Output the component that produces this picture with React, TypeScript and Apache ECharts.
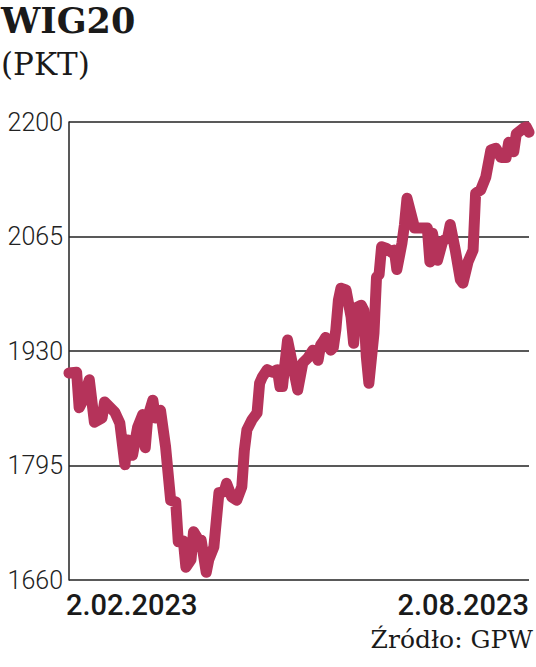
import React, { useEffect, useRef } from "react";
import * as echarts from "echarts";

const dates: string[] = [
  "2023-02-02", "2023-02-05", "2023-02-06", "2023-02-07", "2023-02-10", "2023-02-12", "2023-02-15", "2023-02-16",
  "2023-02-20", "2023-02-22", "2023-02-24", "2023-02-25", "2023-02-27", "2023-03-01", "2023-03-03", "2023-03-04",
  "2023-03-05", "2023-03-07", "2023-03-08", "2023-03-10", "2023-03-12", "2023-03-14", "2023-03-16", "2023-03-17",
  "2023-03-19", "2023-03-20", "2023-03-22", "2023-03-23", "2023-03-25", "2023-03-26", "2023-03-28", "2023-03-29",
  "2023-03-31", "2023-04-02", "2023-04-04", "2023-04-05", "2023-04-07", "2023-04-09", "2023-04-11", "2023-04-12",
  "2023-04-13", "2023-04-15", "2023-04-17", "2023-04-18", "2023-04-19", "2023-04-21", "2023-04-23", "2023-04-25",
  "2023-04-26", "2023-04-27", "2023-04-29", "2023-05-03", "2023-05-05", "2023-05-07", "2023-05-09", "2023-05-11",
  "2023-05-12", "2023-05-13", "2023-05-14", "2023-05-16", "2023-05-17", "2023-05-18", "2023-05-19", "2023-05-20",
  "2023-05-22", "2023-05-24", "2023-05-25", "2023-05-26", "2023-05-28", "2023-05-29", "2023-05-30", "2023-05-31",
  "2023-06-02", "2023-06-03", "2023-06-04", "2023-06-05", "2023-06-07", "2023-06-09", "2023-06-10", "2023-06-11",
  "2023-06-13", "2023-06-14", "2023-06-15", "2023-06-18", "2023-06-21", "2023-06-23", "2023-06-24", "2023-06-25",
  "2023-06-27", "2023-06-29", "2023-07-01", "2023-07-02", "2023-07-04", "2023-07-06", "2023-07-07", "2023-07-09",
  "2023-07-11", "2023-07-12", "2023-07-14", "2023-07-16", "2023-07-18", "2023-07-20", "2023-07-22", "2023-07-24",
  "2023-07-25", "2023-07-27", "2023-07-28", "2023-07-31", "2023-08-01", "2023-08-02",
];

const wig20: number[] = [
  1904, 1905, 1863, 1869, 1896, 1846, 1851, 1870,
  1858, 1845, 1796, 1825, 1807, 1840, 1855, 1816,
  1852, 1872, 1851, 1860, 1817, 1754, 1752, 1705,
  1706, 1675, 1684, 1717, 1707, 1707, 1669, 1684,
  1699, 1763, 1764, 1774, 1758, 1754, 1770, 1813,
  1837, 1849, 1857, 1892, 1899, 1908, 1905, 1908,
  1888, 1888, 1943, 1884, 1916, 1922, 1931, 1919,
  1937, 1941, 1946, 1931, 1934, 1955, 1990, 2004,
  2002, 1970, 1939, 1981, 1984, 1978, 1923, 1892,
  1951, 2017, 2020, 2053, 2051, 2046, 2049, 2026,
  2057, 2079, 2110, 2075, 2075, 2075, 2035, 2069,
  2037, 2059, 2064, 2079, 2049, 2014, 2010, 2035,
  2049, 2116, 2120, 2135, 2167, 2169, 2158, 2158,
  2176, 2165, 2186, 2193, 2194, 2188,
];

const yTicks: number[] = [1660, 1795, 1930, 2065, 2200];
const xTickLabels: string[] = ["2.02.2023", "2.08.2023"];
const xRange: string[] = ["2023-02-02", "2023-08-02"];
const title = "WIG20";
const unit = "(PKT)";
const source = "Źródło: GPW";

export default function App() {
  const ref = useRef<HTMLDivElement>(null);

  useEffect(() => {
    document.body.style.margin = "0";
    if (!ref.current) return;
    const chart = echarts.init(ref.current, null, { renderer: "svg" });
    const interval = yTicks[1] - yTicks[0];
    chart.setOption({
      animation: false,
      backgroundColor: "#ffffff",
      grid: { left: 69, right: 7, top: 122, bottom: 87, containLabel: false },
      xAxis: {
        type: "time",
        min: xRange[0],
        max: xRange[1],
        axisLine: { show: false },
        axisTick: { show: false },
        axisLabel: { show: false },
        splitLine: { show: false },
      },
      yAxis: {
        type: "value",
        min: yTicks[0],
        max: yTicks[yTicks.length - 1],
        interval,
        axisLine: { show: true, lineStyle: { color: "#222", width: 1.5 } },
        axisTick: { show: false },
        axisLabel: {
          color: "#222",
          fontFamily: "Roboto",
          fontWeight: 300,
          fontSize: 25,
          margin: 6,
          formatter: (v: number) => String(v),
        },
        splitLine: { show: true, lineStyle: { color: "#222", width: 1.5 } },
      },
      series: [
        {
          type: "line",
          data: dates.map((d, i) => [d, wig20[i]]),
          showSymbol: false,
          clip: false,
          smooth: false,
          lineStyle: { color: "#b5335a", width: 11, cap: "round", join: "round" },
        },
      ],
      graphic: [
        {
          type: "text",
          left: 1,
          top: 3,
          style: { text: title, font: "bold 35px 'DejaVu Serif'", fill: "#1a1a1a" },
        },
        {
          type: "text",
          left: 1,
          top: 48,
          style: { text: unit, font: "31px 'DejaVu Serif'", fill: "#1a1a1a" },
        },
        {
          type: "text",
          left: 66,
          top: 590,
          style: { text: xTickLabels[0], font: "500 29px Roboto", fill: "#1a1a1a" },
        },
        {
          type: "text",
          right: 7,
          top: 590,
          style: { text: xTickLabels[1], font: "500 29px Roboto", fill: "#1a1a1a" },
        },
        {
          type: "text",
          right: 3,
          top: 627,
          style: { text: source, font: "25px 'DejaVu Serif'", fill: "#1a1a1a" },
        },
      ],
    });
    return () => chart.dispose();
  }, []);

  return <div ref={ref} style={{ width: 536, height: 667 }} />;
}
